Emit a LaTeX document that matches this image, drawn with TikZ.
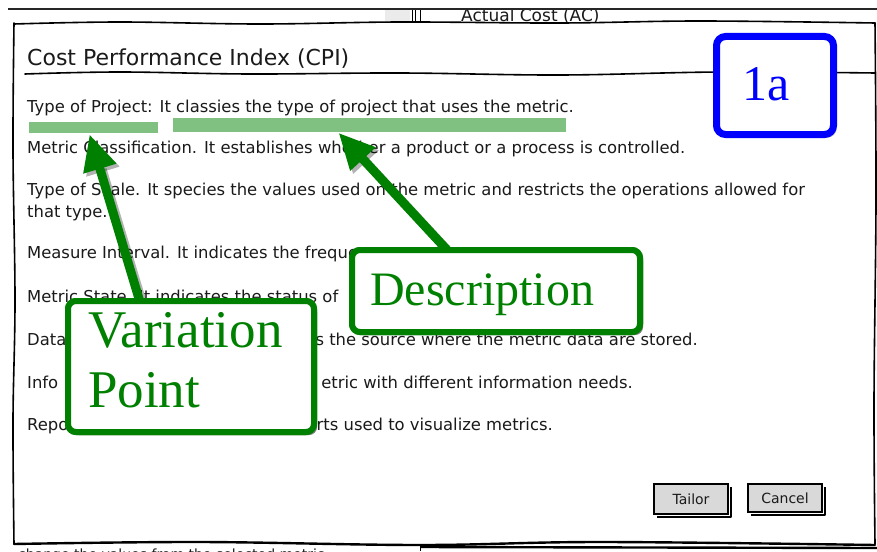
\documentclass[tikz,border=0pt]{standalone}
\usepackage{fontspec}
\setmainfont{DejaVu Sans}
\newfontfamily\calloutfont{Liberation Serif}
\usetikzlibrary{arrows.meta,shadows}

\definecolor{calloutgreen}{RGB}{0,128,0}
\definecolor{markgreen}{RGB}{128,192,128}
\definecolor{calloutblue}{RGB}{0,0,255}
\definecolor{inkgray}{RGB}{26,26,26}
\definecolor{btnfill}{RGB}{217,217,217}
\definecolor{panelgray}{RGB}{235,235,235}

\tikzset{
  body/.style={anchor=base west, inner sep=0pt, text=inkgray,
    font=\fontsize{16.4}{19}\selectfont},
  bodytail/.style={body, anchor=base east},
  titletext/.style={anchor=base west, inner sep=0pt, text=inkgray,
    font=\fontsize{22}{26}\selectfont},
  markbar/.style={fill=markgreen, draw=none, inner sep=0pt},
  calloutbox/.style={draw=calloutgreen, line width=6pt, fill=white,
    rounded corners=8pt, inner sep=0pt,
    drop shadow={shadow xshift=3pt, shadow yshift=-3pt, opacity=0.45, fill=black!70}},
  tagbox/.style={draw=calloutblue, line width=7pt, fill=white,
    rounded corners=9pt, inner sep=0pt,
    drop shadow={shadow xshift=3pt, shadow yshift=-3pt, opacity=0.45, fill=black!70}},
  callouttext/.style={anchor=base west, inner sep=0pt, text=calloutgreen,
    font=\calloutfont\fontsize{53}{60}\selectfont},
  pointer/.style={draw=calloutgreen, line width=9pt,
    -{Triangle[length=36pt,width=32pt]}},
  pointershade/.style={draw=black, opacity=0.3, line width=9pt,
    -{Triangle[length=36pt,width=32pt]}},
  button/.style={draw=black, line width=1.2pt, fill=btnfill, inner sep=0pt,
    font=\fontsize{14}{16}\selectfont, text=inkgray},
  sketch/.style={draw=black, line width=1.6pt, line cap=round, line join=round},
}

\begin{document}
\begin{tikzpicture}[x=1pt, y=-1pt]
\useasboundingbox (0,0) rectangle (877,551);
\fill[white] (0,0) rectangle (877,551);

% window behind the dialog
\fill[panelgray] (385,10) rectangle (410,22);
\draw[line width=0.8pt] (412,10) -- (412,22) (415,10) -- (415,22) (420,10) -- (420,22);
\begin{scope}
  \clip (0,10) rectangle (877,22);
  \node[anchor=base west, inner sep=0pt, font=\fontsize{17}{19}\selectfont, text=inkgray]
    (actualcost) at (461,22) {Actual Cost (AC)};
\end{scope}
\draw[line width=2pt, black!85] (8,9) -- (877,9);
\begin{scope}
  \clip (0,545) rectangle (877,551);
  \node[anchor=base west, inner sep=0pt, font=\fontsize{14}{16}\selectfont, text=inkgray]
    (changenote) at (18,559) {change the values from the selected metric};
\end{scope}
\draw[line width=2.4pt] (420,547) -- (877,548);
\draw[line width=1pt] (420,545) -- (420,551);

% dialog frame
\fill[white] (14,23) rectangle (875,544);
\draw[sketch] plot[smooth, tension=0.6] coordinates
  {(14,24) (120,22) (260,24) (400,22) (560,23) (700,21) (875,23)};
\draw[sketch] plot[smooth, tension=0.6] coordinates
  {(14,23) (13,150) (15,300) (13,420) (14,544)};
\draw[sketch] plot[smooth, tension=0.6] coordinates
  {(875,23) (876,200) (874,400) (875,544)};
\draw[sketch, line width=2.4pt] plot[smooth, tension=0.6] coordinates
  {(14,544) (200,542) (420,545) (600,542) (875,545)};

% dialog title and separator
\node[titletext] (title) at (27,65) {Cost Performance Index (CPI)};
\draw[sketch] plot[smooth, tension=0.6] coordinates
  {(25,74) (120,72) (250,74) (400,73) (560,75) (720,72) (875,73)};

% field descriptions
\node[body] (l1) at (27,112) {Type of Project: It classies the type of project that uses the metric.};
\node[body] (l2) at (27,153) {Metric Classification. It establishes whether a product or a process is controlled.};
\node[body] (l3) at (27,195) {Type of Scale. It species the values used on the metric and restricts the operations allowed for};
\node[body] (l3b) at (27,217) {that type.};
\node[body] (l4) at (27,258) {Measure Interval. It indicates the frequency};
\node[body] (l5) at (27,302) {Metric State. It indicates the status of};
\node[body] (l6a) at (27,345) {Data};
\node[bodytail] (l6b) at (698,345) {ns the source where the metric data are stored.};
\node[body] (l7a) at (27,388) {Info};
\node[bodytail] (l7b) at (633,388) {etric with different information needs.};
\node[body] (l8a) at (27,430) {Repo};
\node[bodytail] (l8b) at (553,430) {orts used to visualize metrics.};

% buttons
\node[button, minimum width=74pt, minimum height=30pt] (tailor) at (691,499) {Tailor};
\node[button, minimum width=74pt, minimum height=28pt] (cancel) at (785,498) {Cancel};
\foreach \b in {tailor,cancel}{
  \draw[line width=2.2pt, line join=round]
    ([shift={(2,4)}]\b.north east) -- ([shift={(2,2)}]\b.south east)
    -- ([shift={(4,2)}]\b.south west);
}

% highlighted parts of the first field
\node[markbar, minimum width=129pt, minimum height=11pt] (bar1) at (93.5,127.5) {};
\node[markbar, minimum width=393pt, minimum height=14pt] (bar2) at (369.5,124.5) {};

% callout boxes
\node[calloutbox, minimum width=246pt, minimum height=131pt] (vp) at (191,366.5) {};
\node[calloutbox, minimum width=288pt, minimum height=82pt] (desc) at (496,291) {};
\coordinate (vpfoot) at ([xshift=-51pt, yshift=-4pt]vp.north);
\coordinate (descfoot) at ([xshift=-48pt, yshift=-4pt]desc.north);
\coordinate (tip1) at ([xshift=-4pt, yshift=-1pt]bar1.south);
\coordinate (tip2) at ([xshift=-31pt, yshift=-1pt]bar2.south);

% pointers, with their shading
\draw[pointershade] ([shift={(3,3)}]vpfoot) -- ([shift={(3,3)}]tip1);
\draw[pointershade] ([shift={(3,3)}]descfoot) -- ([shift={(3,3)}]tip2);
\draw[pointer] (vpfoot) -- (tip1);
\draw[pointer] (descfoot) -- (tip2);

% boxes drawn again over the pointer tails
\node[calloutbox, minimum width=246pt, minimum height=131pt] (vpcover) at (vp.center) {};
\node[calloutbox, minimum width=288pt, minimum height=82pt] (desccover) at (desc.center) {};
\node[callouttext] (vptext1) at (88,347) {Variation};
\node[callouttext] (vptext2) at (88,407) {Point};
\node[callouttext, font=\calloutfont\fontsize{48}{56}\selectfont] (desctext) at (370,305) {Description};

% tag in the corner
\node[tagbox, minimum width=117pt, minimum height=98pt] (tag) at (775,85.5) {};
\node[anchor=base west, inner sep=0pt, text=calloutblue,
  font=\calloutfont\fontsize{50}{60}\selectfont] (tagtext) at (742,100) {1a};
\end{tikzpicture}
\end{document}
